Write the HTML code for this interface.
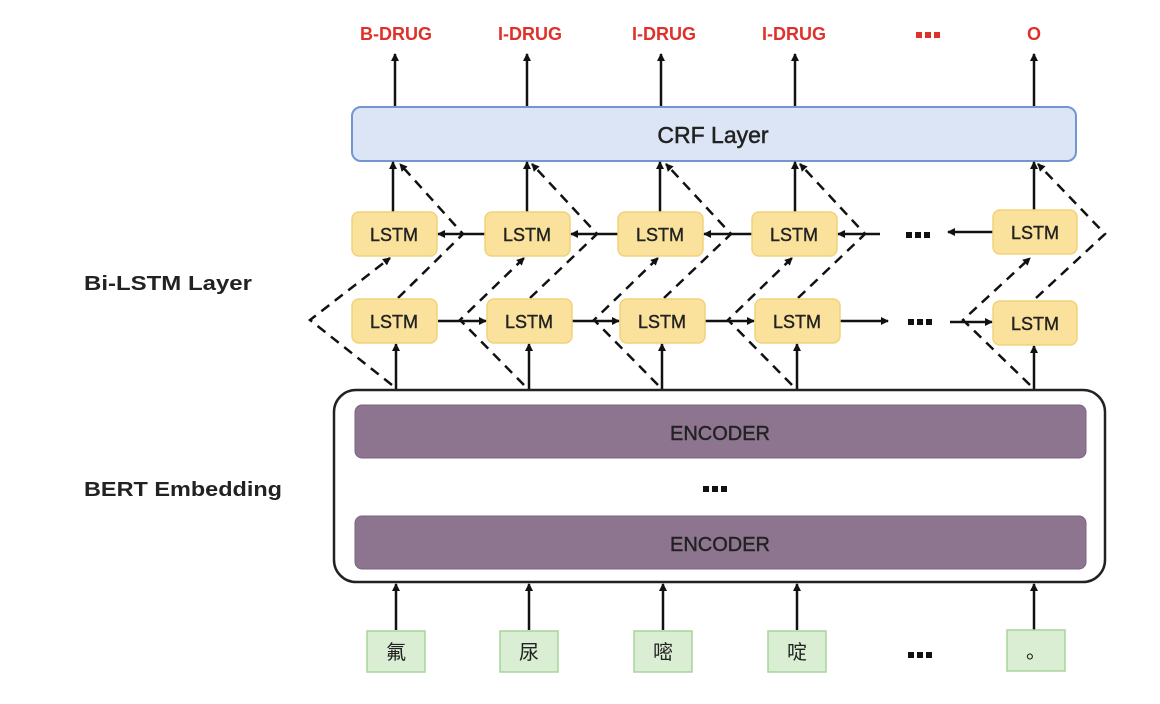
<!DOCTYPE html>
<html><head><meta charset="utf-8"><style>
html,body{margin:0;padding:0;background:#fff;}
svg{display:block;}
text{font-family:"Liberation Sans","Noto Sans CJK SC",sans-serif;}
</style></head><body>
<svg width="1160" height="704" viewBox="0 0 1160 704" xmlns="http://www.w3.org/2000/svg">
<defs>
<marker id="ah" markerWidth="8" markerHeight="8" refX="7" refY="4" orient="auto" markerUnits="userSpaceOnUse">
<path d="M0,0 L8,4 L0,8 Z" fill="#111"/>
</marker>
<g id="dots"><rect x="-12" y="-3" width="6" height="6"/><rect x="-3" y="-3" width="6" height="6"/><rect x="6" y="-3" width="6" height="6"/></g>
</defs>
<rect width="1160" height="704" fill="#fff"/>
<!-- top labels -->
<g fill="#e0302a" font-weight="bold" font-size="18" text-anchor="middle">
<text x="396" y="40">B-DRUG</text>
<text x="530" y="40">I-DRUG</text>
<text x="664" y="40">I-DRUG</text>
<text x="794" y="40">I-DRUG</text>
<text x="1034" y="40">O</text>
</g>
<use href="#dots" x="928" y="35" fill="#e0302a"/>
<g stroke="#111" stroke-width="2.5" fill="none" marker-end="url(#ah)">
<line x1="395" y1="107" x2="395" y2="54"/>
<line x1="527" y1="107" x2="527" y2="54"/>
<line x1="661" y1="107" x2="661" y2="54"/>
<line x1="795" y1="107" x2="795" y2="54"/>
<line x1="1034" y1="107" x2="1034" y2="54"/>
</g>
<!-- CRF -->
<rect x="352" y="107" width="724" height="54" rx="9" fill="#dbe5f5" stroke="#7396d3" stroke-width="2"/>
<text x="713" y="143" font-size="23" text-anchor="middle" fill="#222" stroke="#222" stroke-width="0.5">CRF Layer</text>

<!-- left labels -->
<text x="84" y="290" font-size="20" font-weight="bold" fill="#222" textLength="168" lengthAdjust="spacingAndGlyphs">Bi-LSTM Layer</text>
<text x="84" y="496" font-size="20" font-weight="bold" fill="#222" textLength="198" lengthAdjust="spacingAndGlyphs">BERT Embedding</text>

<!-- dashed connections -->
<g stroke="#111" stroke-width="2.5" fill="none" stroke-dasharray="10,7">
<polyline points="392,385 310,320 390,258" marker-end="url(#ah)"/>
<polyline points="524,385 460,320 524,258" marker-end="url(#ah)"/>
<polyline points="658,385 594,320 658,258" marker-end="url(#ah)"/>
<polyline points="792,385 728,320 792,258" marker-end="url(#ah)"/>
<polyline points="1030,385 963,320 1030,258" marker-end="url(#ah)"/>
<polyline points="398,298 463,234 400,164" marker-end="url(#ah)"/>
<polyline points="530,298 597,234 532,164" marker-end="url(#ah)"/>
<polyline points="664,298 731,234 666,164" marker-end="url(#ah)"/>
<polyline points="798,298 865,234 800,164" marker-end="url(#ah)"/>
<polyline points="1036,298 1105,234 1038,164" marker-end="url(#ah)"/>
</g>

<g stroke="#111" stroke-width="2.5" fill="none" marker-end="url(#ah)">
<line x1="393" y1="212" x2="393" y2="162"/>
<line x1="527" y1="212" x2="527" y2="162"/>
<line x1="660" y1="212" x2="660" y2="162"/>
<line x1="795" y1="212" x2="795" y2="162"/>
<line x1="1034" y1="210" x2="1034" y2="162"/>
<line x1="396" y1="390" x2="396" y2="344"/>
<line x1="529" y1="390" x2="529" y2="344"/>
<line x1="662" y1="390" x2="662" y2="344"/>
<line x1="797" y1="390" x2="797" y2="344"/>
<line x1="1034" y1="390" x2="1034" y2="346"/>
<line x1="485" y1="234" x2="438" y2="234"/>
<line x1="618" y1="234" x2="571" y2="234"/>
<line x1="752" y1="234" x2="704" y2="234"/>
<line x1="880" y1="234" x2="838" y2="234"/>
<line x1="993" y1="232" x2="948" y2="232"/>
<line x1="438" y1="321" x2="486" y2="321"/>
<line x1="572" y1="321" x2="619" y2="321"/>
<line x1="705" y1="321" x2="754" y2="321"/>
<line x1="840" y1="321" x2="888" y2="321"/>
<line x1="950" y1="322" x2="992" y2="322"/>
</g>
<use href="#dots" x="918" y="235" fill="#111"/>
<use href="#dots" x="920" y="322" fill="#111"/>

<!-- LSTM boxes -->
<g fill="#fbe29c" stroke="#f2d27a" stroke-width="1.5">
<rect x="352" y="212" width="85" height="44" rx="7"/>
<rect x="485" y="212" width="85" height="44" rx="7"/>
<rect x="618" y="212" width="85" height="44" rx="7"/>
<rect x="752" y="212" width="85" height="44" rx="7"/>
<rect x="993" y="210" width="84" height="44" rx="7"/>
<rect x="352" y="299" width="85" height="44" rx="7"/>
<rect x="487" y="299" width="85" height="44" rx="7"/>
<rect x="620" y="299" width="85" height="44" rx="7"/>
<rect x="755" y="299" width="85" height="44" rx="7"/>
<rect x="993" y="301" width="84" height="44" rx="7"/>
</g>
<g font-size="18" fill="#222" stroke="#222" stroke-width="0.4" text-anchor="middle">
<text x="394" y="241">LSTM</text>
<text x="527" y="241">LSTM</text>
<text x="660" y="241">LSTM</text>
<text x="794" y="241">LSTM</text>
<text x="1035" y="239">LSTM</text>
<text x="394" y="328">LSTM</text>
<text x="529" y="328">LSTM</text>
<text x="662" y="328">LSTM</text>
<text x="797" y="328">LSTM</text>
<text x="1035" y="330">LSTM</text>
</g>

<!-- BERT -->
<rect x="334" y="390" width="771" height="192" rx="22" fill="#fff" stroke="#222" stroke-width="2.5"/>
<rect x="355" y="405" width="731" height="53" rx="7" fill="#8d7590" stroke="#7a6380"/>
<rect x="355" y="516" width="731" height="53" rx="7" fill="#8d7590" stroke="#7a6380"/>
<g font-size="20" fill="#222" stroke="#222" stroke-width="0.4" text-anchor="middle">
<text x="720" y="440">ENCODER</text>
<text x="720" y="551">ENCODER</text>
</g>
<use href="#dots" x="715" y="489" fill="#111"/>

<!-- inputs -->
<g stroke="#111" stroke-width="2.5" fill="none" marker-end="url(#ah)">
<line x1="396" y1="630" x2="396" y2="584"/>
<line x1="529" y1="630" x2="529" y2="584"/>
<line x1="663" y1="630" x2="663" y2="584"/>
<line x1="797" y1="630" x2="797" y2="584"/>
<line x1="1034" y1="630" x2="1034" y2="584"/>
</g>
<g fill="#d9eed2" stroke="#a9d49c" stroke-width="1.5">
<rect x="367" y="631" width="58" height="41"/>
<rect x="500" y="631" width="58" height="41"/>
<rect x="634" y="631" width="58" height="41"/>
<rect x="768" y="631" width="58" height="41"/>
<rect x="1007" y="630" width="58" height="41"/>
</g>
<g font-size="20" fill="#222" text-anchor="middle">
<text x="396" y="659">氟</text>
<text x="529" y="659">尿</text>
<text x="663" y="659">嘧</text>
<text x="797" y="659">啶</text>
<text x="1036" y="658">。</text>
</g>
<use href="#dots" x="920" y="655" fill="#111"/>
</svg>
</body></html>
